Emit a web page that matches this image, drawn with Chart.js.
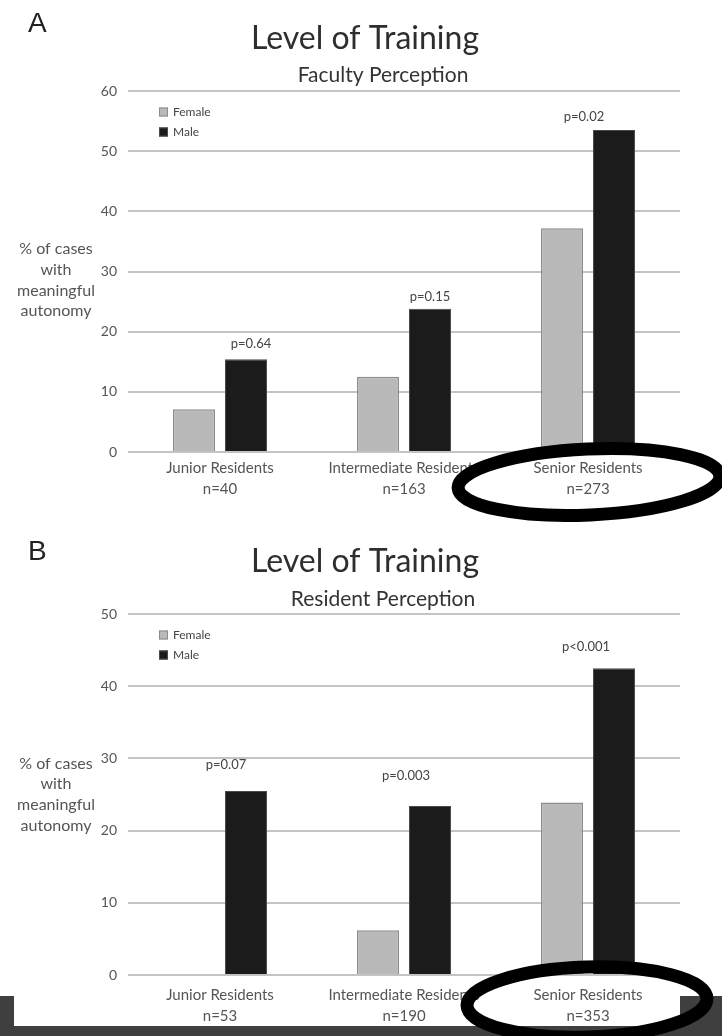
<!DOCTYPE html>
<html>
<head>
<meta charset="utf-8">
<script src="https://cdn.jsdelivr.net/npm/chart.js@4.4.1/dist/chart.umd.min.js"></script>
<style>
  body { margin: 0; background: #fff; }
  #page { position: relative; width: 722px; height: 1036px; overflow: hidden; }
  .band { position: absolute; background: #3f3f3f; z-index: 0; }
  canvas { position: absolute; left: 0; z-index: 1; }
</style>
</head>
<body>
<div id="page">
  <div class="band" style="left:0;top:996px;width:14px;height:40px"></div>
  <div class="band" style="left:0;top:1026px;width:722px;height:10px"></div>
  <div class="band" style="left:680px;top:996px;width:42px;height:40px"></div>
  <canvas id="chartA" width="722" height="523" style="top:0"></canvas>
  <canvas id="chartB" width="722" height="513" style="top:523px"></canvas>
</div>
<script>
// data
const levels = ['Junior Residents', 'Intermediate Residents', 'Senior Residents'];
const seriesNames = ['Female', 'Male'];

const facultyN = ['n=40', 'n=163', 'n=273'];
const facultyFemale = [7.1, 12.5, 37.2];
const facultyMale = [15.4, 23.8, 53.5];
const facultyP = ['p=0.64', 'p=0.15', 'p=0.02'];
const facultyMax = 60;

const residentN = ['n=53', 'n=190', 'n=353'];
const residentFemale = [0, 6.2, 23.9];
const residentMale = [25.5, 23.4, 42.5];
const residentP = ['p=0.07', 'p=0.003', 'p<0.001'];
const residentMax = 50;

const yLabelLines = ['% of cases', 'with', 'meaningful', 'autonomy'];

const FONT = 'Lato, "Open Sans", sans-serif';
const TXT = '#555555';

//---------------------------------------------------------------
// extras: panel letter, subtitle, legend inside plot, y label, p values, ellipse
//---------------------------------------------------------------
const decorPlugin = {
    id: 'decor',
    afterDraw(chart, args, opts) {
        const ctx = chart.ctx;
        const area = chart.chartArea;
        const x = chart.scales.x;
        const y = chart.scales.y;
        ctx.save();

        // panel letter
        ctx.fillStyle = '#222';
        ctx.font = '28px "Liberation Sans", Arial, sans-serif';
        ctx.textAlign = 'left';
        ctx.textBaseline = 'alphabetic';
        ctx.fillText(opts.letter, 28, opts.letterY);

        // subtitle (sits a bit right of the main title in the original)
        ctx.font = '21px ' + FONT;
        ctx.fillStyle = '#333';
        ctx.textAlign = 'center';
        ctx.textBaseline = 'middle';
        ctx.fillText(opts.subtitle, 383, opts.subtitleY);

        // legend
        ctx.font = '12px ' + FONT;
        ctx.textAlign = 'left';
        chart.data.datasets.forEach(function (ds, i) {
            let ly = area.top + 21 + i * 20;
            ctx.fillStyle = ds.backgroundColor;
            ctx.fillRect(area.left + 31, ly - 4.5, 9, 9);
            ctx.strokeStyle = ds.borderColor;
            ctx.lineWidth = 1;
            ctx.strokeRect(area.left + 31.5, ly - 4, 8, 8);
            ctx.fillStyle = '#444';
            ctx.fillText(ds.label, area.left + 45, ly);
        });

        // y axis label, horizontal lines
        ctx.font = '16px ' + FONT;
        ctx.fillStyle = TXT;
        ctx.textAlign = 'center';
        let midY = (area.top + area.bottom) / 2 + opts.yLabelShift;
        yLabelLines.forEach(function (line, i) {
            ctx.fillText(line, 56, midY + (i - 1.5) * 20.7);
        });

        // p values over each group
        ctx.font = '13px ' + FONT;
        ctx.fillStyle = '#444';
        let male = chart.data.datasets[1].data;
        opts.pLabels.forEach(function (txt, i) {
            let off = opts.pOffsets[i];
            ctx.fillText(txt, x.getPixelForValue(i) + off[0], y.getPixelForValue(male[i]) + off[1]);
        });

        // hand drawn ellipse around the senior residents label
        let e = opts.ellipse;
        ctx.beginPath();
        ctx.ellipse(e.cx, e.cy, e.rx, e.ry, e.rot, 0, Math.PI * 2);
        ctx.lineWidth = 13;
        ctx.strokeStyle = '#000';
        ctx.stroke();

        ctx.restore();
    }
};

function makeChart(canvasId, nLabels, female, male, yMax, axisHeight, xPad, extra) {
    let labels = levels.map(function (l, i) { return [l, nLabels[i]]; });
    return new Chart(document.getElementById(canvasId), {
        type: 'bar',
        data: {
            labels: labels,
            datasets: [{
                label: seriesNames[0],
                data: female,
                backgroundColor: '#b9b9b9',
                borderColor: '#8c8c8c',
                borderWidth: 1.5,
                barPercentage: 0.808,
                categoryPercentage: 0.565
            }, {
                label: seriesNames[1],
                data: male,
                backgroundColor: '#1b1b1b',
                borderColor: '#4a4a4a',
                borderWidth: 1,
                barPercentage: 0.808,
                categoryPercentage: 0.565
            }]
        },
        options: {
            responsive: false,
            animation: false,
            layout: { padding: { left: 50, right: 42, top: 0, bottom: 0 } },
            plugins: {
                legend: { display: false },
                tooltip: { enabled: false },
                title: {
                    display: true,
                    text: 'Level of Training',
                    color: '#2e2e2e',
                    font: { family: FONT, size: 32, weight: 'normal' },
                    padding: { top: 19.8, bottom: 32.8 }
                },
                decor: extra
            },
            scales: {
                x: {
                    grid: { display: false },
                    border: { display: false },
                    ticks: {
                        color: TXT,
                        padding: xPad,
                        maxRotation: 0,
                        autoSkip: false,
                        font: { family: FONT, size: 15, lineHeight: 1.4 }
                    },
                    afterFit: function (s) {
                        s.height = axisHeight;
                        s.paddingLeft = 0;
                        s.paddingRight = 0;
                    }
                },
                y: {
                    min: 0,
                    max: yMax,
                    grid: { color: '#c4c4c4', lineWidth: 2, drawTicks: false },
                    border: { display: false },
                    ticks: {
                        stepSize: 10,
                        color: TXT,
                        padding: 11,
                        font: { family: FONT, size: 14 }
                    },
                    afterFit: function (s) {
                        s.width = 78;
                        s.paddingTop = 0;
                        s.paddingBottom = 0;
                    }
                }
            }
        },
        plugins: [decorPlugin]
    });
}

//---------------------------------------------------------------
// PANEL A - FACULTY
//---------------------------------------------------------------
makeChart('chartA', facultyN, facultyFemale, facultyMale, facultyMax, 71, -2, {
    letter: 'A',
    letterY: 32,
    subtitle: 'Faculty Perception',
    subtitleY: 75,
    yLabelShift: 8.5,
    pLabels: facultyP,
    pOffsets: [[31, -16], [26, -12], [-4, -13]],
    ellipse: { cx: 589, cy: 482, rx: 131, ry: 33, rot: -0.045 }
});

//---------------------------------------------------------------
// PANEL B - RESIDENTS
//---------------------------------------------------------------
makeChart('chartB', residentN, residentFemale, residentMale, residentMax, 61, 2, {
    letter: 'B',
    letterY: 37,
    subtitle: 'Resident Perception',
    subtitleY: 76,
    yLabelShift: 0,
    pLabels: residentP,
    pOffsets: [[6, -26], [2, -30], [-2, -21]],
    ellipse: { cx: 587, cy: 479, rx: 120, ry: 35, rot: -0.03 }
});
</script>
</body>
</html>
